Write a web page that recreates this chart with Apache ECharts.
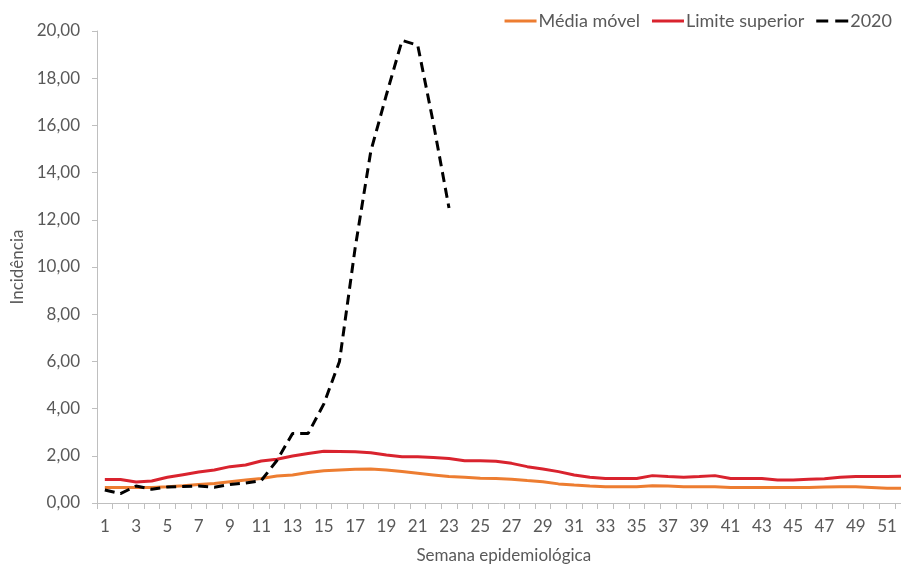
<!DOCTYPE html>
<html>
<head>
<meta charset="utf-8">
<script src="https://cdn.jsdelivr.net/npm/echarts@6/dist/echarts.min.js"></script>
<style>
html,body{margin:0;padding:0;background:#fff;}
#chart{width:901px;height:565px;}
</style>
</head>
<body>
<div id="chart"></div>
<script>
var weeks = [];
for (var i = 1; i <= 52; i++) weeks.push(String(i));

var mediaMovel = [0.66,0.66,0.66,0.66,0.69,0.73,0.78,0.83,0.90,0.97,1.04,1.14,1.19,1.29,1.37,1.40,1.43,1.44,1.40,1.33,1.26,1.19,1.12,1.09,1.05,1.04,1.01,0.95,0.90,0.81,0.76,0.72,0.69,0.69,0.69,0.73,0.72,0.69,0.69,0.69,0.66,0.66,0.66,0.66,0.66,0.66,0.68,0.69,0.69,0.66,0.62,0.62];

var limiteSuperior = [1.00,1.00,0.89,0.93,1.09,1.20,1.31,1.40,1.54,1.61,1.78,1.85,1.99,2.10,2.19,2.18,2.17,2.13,2.03,1.96,1.96,1.93,1.89,1.79,1.79,1.77,1.68,1.54,1.44,1.33,1.19,1.09,1.04,1.04,1.04,1.16,1.12,1.09,1.12,1.16,1.04,1.04,1.04,0.97,0.97,1.01,1.03,1.09,1.12,1.12,1.12,1.13];

var ano2020 = [0.55,0.40,0.72,0.58,0.68,0.70,0.72,0.67,0.78,0.85,0.95,1.80,2.95,2.95,4.20,6.00,10.80,14.90,17.30,19.60,19.40,16.10,12.50];

var yTicks = [0,2,4,6,8,10,12,14,16,18,20];

var chart = echarts.init(document.getElementById('chart'), null, {renderer:'canvas'});
var txt = '#595959';
var fontFam = 'Lato, "Open Sans", sans-serif';
var fs = 17;
var solidIcon = 'path://M0,0h32v3h-32z';
var dashIcon = 'path://M0,0h12v3h-12z M19,0h13v3h-13z';
chart.setOption({
  animation: false,
  backgroundColor: '#ffffff',
  textStyle: {fontFamily: fontFam},
  grid: {left: 97, right: -9.5, top: 31, bottom: 62, containLabel: false, outerBoundsMode: 'none'},
  legend: {
    right: 4, top: 7,
    itemWidth: 32, itemHeight: 3, itemGap: 12,
    symbolKeepAspect: false,
    textStyle: {color: txt, fontSize: 18, fontFamily: fontFam, padding:[0,0,0,-3]},
    data: [
      {name: 'Média móvel', icon: solidIcon},
      {name: 'Limite superior', icon: solidIcon},
      {name: '2020', icon: dashIcon}
    ]
  },
  xAxis: {
    type: 'category',
    data: weeks,
    boundaryGap: true,
    name: 'Semana epidemiológica',
    nameLocation: 'middle',
    nameGap: 44,
    nameTextStyle: {color: txt, fontSize: fs, fontFamily: fontFam},
    axisLine: {lineStyle: {color: '#bfbfbf', width: 1}},
    axisTick: {show: true, interval: 0, length: 6, lineStyle: {color: '#bfbfbf'}},
    axisLabel: {interval: 1, color: txt, fontSize: fs, margin: 15, fontFamily: fontFam},
    splitLine: {show: false}
  },
  yAxis: {
    type: 'value',
    min: yTicks[0], max: yTicks[yTicks.length-1], interval: 2,
    name: 'Incidência',
    nameLocation: 'middle',
    nameGap: 70,
    nameRotate: 90,
    nameTextStyle: {color: txt, fontSize: fs, fontFamily: fontFam},
    axisLine: {show: true, lineStyle: {color: '#bfbfbf', width: 1}},
    axisTick: {show: true, inside: false, length: 5, lineStyle: {color: '#bfbfbf'}},
    axisLabel: {color: txt, fontSize: fs, margin: 17, fontFamily: fontFam,
      formatter: function(v){ return v.toFixed(2).replace('.', ','); }},
    splitLine: {show: false}
  },
  series: [
    {name: 'Média móvel', type: 'line', data: mediaMovel, symbol: 'none', smooth: false,
     lineStyle: {color: '#ED7D31', width: 3}, itemStyle: {color: '#ED7D31'}, z: 2},
    {name: 'Limite superior', type: 'line', data: limiteSuperior, symbol: 'none',
     lineStyle: {color: '#D9232E', width: 3}, itemStyle: {color: '#D9232E'}, z: 3},
    {name: '2020', type: 'line', data: ano2020, symbol: 'none',
     lineStyle: {color: '#000000', width: 3, type: [10, 6]}, itemStyle: {color: '#000000'}, z: 4}
  ]
});
</script>
</body>
</html>
